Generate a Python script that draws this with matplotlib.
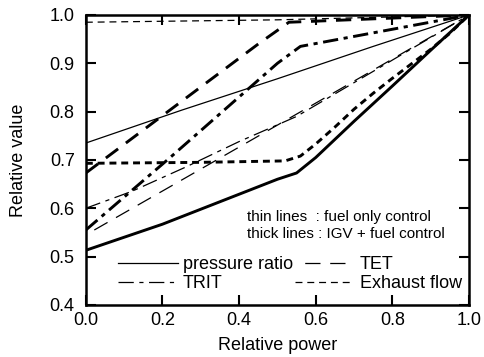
import numpy as np
import matplotlib
matplotlib.use('Agg')
import matplotlib.pyplot as plt

plt.rcParams['font.family'] = ['Liberation Sans', 'DejaVu Sans']
plt.rcParams['lines.scale_dashes'] = False

# thin lines: fuel only control
pr_thin_x = [0.0, 0.25, 0.5, 0.75, 1.0]
pr_thin = [0.735, 0.803, 0.868, 0.935, 1.0]
tet_thin_x = [0.0, 0.225, 0.48, 0.715, 0.864, 1.0]
tet_thin = [0.545, 0.647, 0.763, 0.87, 0.938, 1.0]
trit_thin_x = [0.0, 0.12, 0.26, 0.40, 0.55, 0.70, 1.0]
trit_thin = [0.60, 0.635, 0.685, 0.738, 0.79, 0.86, 1.0]
exh_thin_x = [0.0, 0.5, 1.0]
exh_thin = [0.985, 0.99, 1.0]

# thick lines: IGV + fuel control
pr_thick_x = [0.0, 0.2, 0.5, 0.55, 0.6, 0.7, 0.8, 0.9, 1.0]
pr_thick = [0.513, 0.567, 0.66, 0.673, 0.705, 0.78, 0.853, 0.927, 1.0]
tet_thick_x = [0.0, 0.45, 0.53, 1.0]
tet_thick = [0.673, 0.94, 0.985, 1.0]
trit_thick_x = [0.0, 0.22, 0.5, 0.56, 1.0]
trit_thick = [0.555, 0.705, 0.9, 0.935, 1.0]
exh_thick_x = [0.0, 0.3, 0.52, 0.56, 0.6, 0.65, 0.7, 0.75, 0.8, 0.85, 0.9, 0.95, 1.0]
exh_thick = [0.693, 0.695, 0.698, 0.708, 0.733, 0.768, 0.805, 0.838, 0.869, 0.899, 0.929, 0.962, 1.0]

labels = ['pressure ratio', 'TRIT', 'TET', 'Exhaust flow']

ls_pr = '-'
ls_tet_thin = (11, (11, 7))   # start on a gap, like the legend sample
ls_tet_thick = (0, (11, 7))
ls_trit = (0, (11, 4, 3, 4))
ls_exh = (0, (5, 3.5))
thin = 0.9
thick = 2.1

fig = plt.figure(figsize=(4.85, 3.57), dpi=100)
ax = fig.add_axes([0.177, 0.146, 0.79, 0.812])

h_pr, = ax.plot(pr_thin_x, pr_thin, color='k', lw=thin, ls=ls_pr)
h_tet, = ax.plot(tet_thin_x, tet_thin, color='k', lw=thin, ls=ls_tet_thin)
h_trit, = ax.plot(trit_thin_x, trit_thin, color='k', lw=thin, ls=ls_trit)
h_exh, = ax.plot(exh_thin_x, exh_thin, color='k', lw=thin, ls=ls_exh)

ax.plot(pr_thick_x, pr_thick, color='k', lw=thick, ls=ls_pr)
ax.plot(tet_thick_x, tet_thick, color='k', lw=thick, ls=ls_tet_thick)
ax.plot(trit_thick_x, trit_thick, color='k', lw=thick, ls=ls_trit)
ax.plot(exh_thick_x, exh_thick, color='k', lw=thick, ls=ls_exh)

ax.set_xlim(0, 1)
ax.set_ylim(0.4, 1.0)
ax.set_xticks(np.arange(0, 1.01, 0.2))
ax.set_yticks(np.arange(0.4, 1.01, 0.1))
ax.xaxis.set_major_formatter(matplotlib.ticker.FormatStrFormatter('%.1f'))
ax.yaxis.set_major_formatter(matplotlib.ticker.FormatStrFormatter('%.1f'))
ax.tick_params(direction='in', length=7, width=1.5, top=True, right=True,
               labelsize=13)
ax.tick_params(axis='x', pad=5)
ax.tick_params(axis='y', pad=8)
for s in ax.spines.values():
    s.set_linewidth(1.8)

ax.set_xlabel('Relative power', fontsize=13, labelpad=6)
ax.set_ylabel('Relative value', fontsize=13, labelpad=16)

ax.text(0.42, 0.574, 'thin lines  : fuel only control', fontsize=11)
ax.text(0.42, 0.539, 'thick lines : IGV + fuel control', fontsize=11)

ax.legend([h_pr, h_trit, h_tet, h_exh], labels, ncol=2, frameon=False,
          fontsize=13, handlelength=3.3, handletextpad=0.3,
          columnspacing=0.1, labelspacing=0.1, borderaxespad=0,
          loc='upper left', bbox_to_anchor=(0.065, 0.193))

fig.savefig('out.png', dpi=100)
